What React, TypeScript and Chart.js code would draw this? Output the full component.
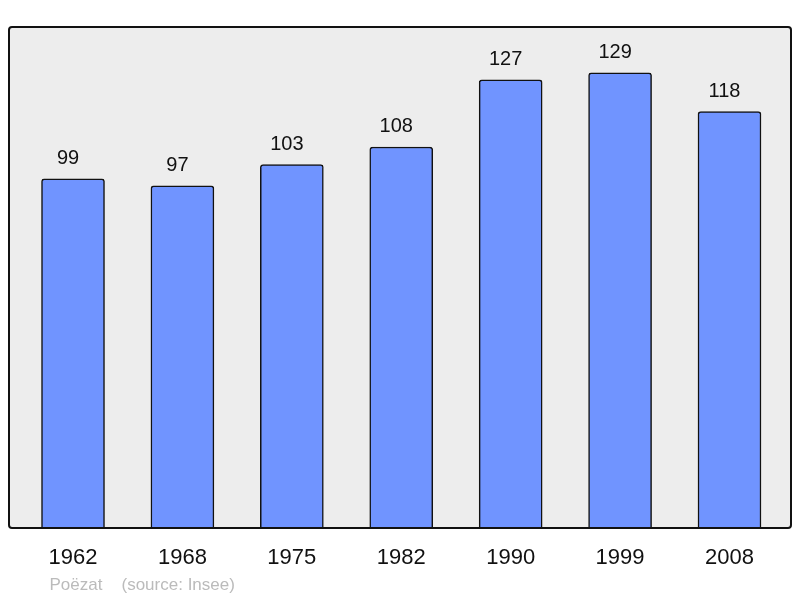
import React, { useEffect, useRef } from "react";
import { Chart, registerables } from "chart.js";

Chart.register(...registerables);

const years = ["1962", "1968", "1975", "1982", "1990", "1999", "2008"];
const population = [99, 97, 103, 108, 127, 129, 118];
const footerCommune = "Poëzat";
const footerSource = "(source: Insee)";

const FONT = "'Liberation Sans', Arial, sans-serif";

const framePlugin = {
  id: "frame",
  beforeDraw(chart: any) {
    const { ctx, chartArea } = chart;
    const l = chartArea.left - 9.3;
    const r = chartArea.right + 6.8;
    const t = chartArea.top;
    const b = chartArea.bottom;
    ctx.save();
    ctx.beginPath();
    ctx.roundRect(l, t, r - l, b - t, 3);
    ctx.fillStyle = "#ededed";
    ctx.fill();
    ctx.restore();
  },
  afterDatasetsDraw(chart: any) {
    const { ctx, chartArea } = chart;
    const l = chartArea.left - 9.3;
    const r = chartArea.right + 6.8;
    const t = chartArea.top;
    const b = chartArea.bottom;
    ctx.save();
    ctx.beginPath();
    ctx.roundRect(l, t, r - l, b - t, 3);
    ctx.lineWidth = 2;
    ctx.strokeStyle = "#111";
    ctx.stroke();
    // value labels
    const meta = chart.getDatasetMeta(0);
    ctx.fillStyle = "#111";
    ctx.font = `20px ${FONT}`;
    ctx.textAlign = "center";
    ctx.textBaseline = "alphabetic";
    meta.data.forEach((bar: any, i: number) => {
      ctx.fillText(String(population[i]), bar.x - 5, bar.y - 15);
    });
    // footer
    ctx.fillStyle = "#bbbbbb";
    ctx.font = `17px ${FONT}`;
    ctx.textAlign = "left";
    ctx.fillText(footerCommune, l + 40.5, 590);
    ctx.fillText(footerSource, l + 112.5, 590);
    ctx.restore();
  },
};

export default function App() {
  const ref = useRef<HTMLCanvasElement>(null);
  useEffect(() => {
    document.body.style.margin = "0";
    const chart = new Chart(ref.current!, {
      type: "bar",
      data: {
        labels: years,
        datasets: [
          {
            data: population,
            backgroundColor: "#7094ff",
            borderColor: "#111",
            borderWidth: 1.5,
            borderRadius: 3,
            borderSkipped: "start",
            barThickness: 63,
          },
        ],
      },
      options: {
        animation: false,
        responsive: false,
        layout: { padding: { left: 18.3, right: 15.8, top: 27, bottom: 0 } },
        plugins: { legend: { display: false }, tooltip: { enabled: false } },
        scales: {
          x: {
            grid: { display: false, drawTicks: false },
            border: { display: false },
            ticks: {
              color: "#111",
              font: { family: FONT, size: 22 },
              padding: 16.5,
            },
            afterFit(scale: any) {
              scale.height = 70;
            },
          },
          y: {
            display: false,
            min: 0,
            max: 142,
          },
        },
      },
      plugins: [framePlugin],
    });
    return () => chart.destroy();
  }, []);
  return <canvas ref={ref} width={800} height={598} style={{ display: "block" }} />;
}
